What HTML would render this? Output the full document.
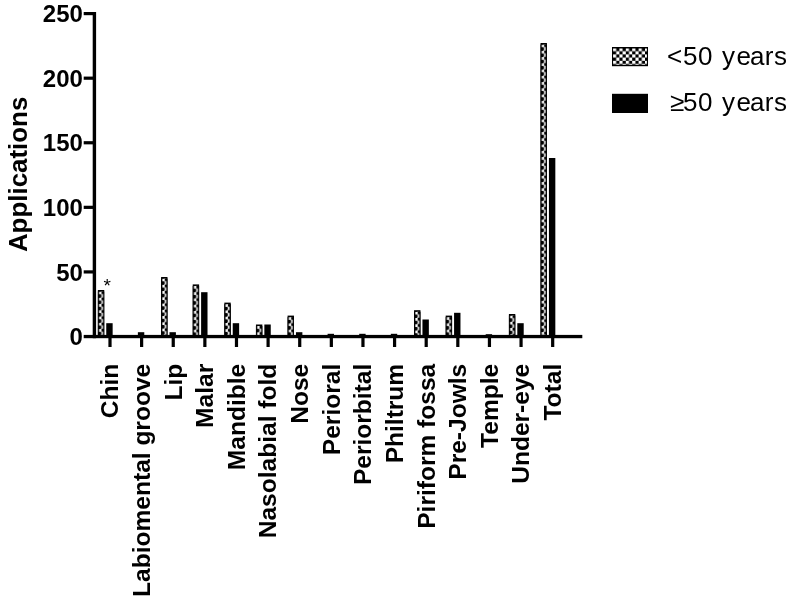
<!DOCTYPE html>
<html><head><meta charset="utf-8"><title>Applications by site and age</title>
<style>
html,body{margin:0;padding:0;background:#fff;}
svg{display:block;}
text{font-family:"Liberation Sans",Arial,Helvetica,sans-serif;fill:#000;}
.b{font-weight:bold;font-size:24.6px;letter-spacing:-0.03px;}
.yl{font-weight:bold;font-size:24px;text-anchor:end;}
.lg{font-size:26px;letter-spacing:0.6px;}
</style></head><body>
<svg width="790" height="602" viewBox="0 0 790 602">
<defs>
<pattern id="chk" patternUnits="userSpaceOnUse" x="1" y="1" width="6.4" height="6.4">
<rect x="0" y="0" width="6.4" height="6.4" fill="#000"/>
<rect x="0" y="0" width="3.2" height="3.2" fill="#fff"/>
<rect x="3.2" y="3.2" width="3.2" height="3.2" fill="#fff"/>
</pattern>
<pattern id="bp" patternUnits="userSpaceOnUse" x="0" y="1.6" width="6.5" height="6.25">
<rect x="0" y="0" width="6.5" height="6.25" fill="#000"/>
<rect x="1.3" y="0" width="2.3" height="2.7" fill="#fff"/>
<rect x="3.5" y="2.5" width="1.7" height="3.5" fill="#e4e4e4"/>
<rect x="2.9" y="2.2" width="1.2" height="0.9" fill="#bbb"/>
<rect x="2.9" y="5.3" width="1.2" height="0.9" fill="#bbb"/>
</pattern>
</defs>
<rect x="0" y="0" width="790" height="602" fill="#fff"/>

<g transform="translate(97.85,290.00)"><rect x="0" y="0" width="6.4" height="46.50" fill="#000"/><rect x="0" y="1.5" width="6.4" height="45.00" fill="url(#bp)"/></g>
<rect x="106.25" y="323.20" width="6.4" height="13.30" fill="#000"/>
<rect x="129.47" y="335.30" width="6.4" height="1.20" fill="#000"/>
<rect x="137.87" y="332.20" width="6.4" height="4.30" fill="#000"/>
<g transform="translate(161.09,277.00)"><rect x="0" y="0" width="6.4" height="59.50" fill="#000"/><rect x="0" y="1.5" width="6.4" height="58.00" fill="url(#bp)"/></g>
<rect x="169.49" y="332.20" width="6.4" height="4.30" fill="#000"/>
<g transform="translate(192.71,284.40)"><rect x="0" y="0" width="6.4" height="52.10" fill="#000"/><rect x="0" y="1.5" width="6.4" height="50.60" fill="url(#bp)"/></g>
<rect x="201.11" y="292.20" width="6.4" height="44.30" fill="#000"/>
<g transform="translate(224.33,302.60)"><rect x="0" y="0" width="6.4" height="33.90" fill="#000"/><rect x="0" y="1.5" width="6.4" height="32.40" fill="url(#bp)"/></g>
<rect x="232.73" y="323.20" width="6.4" height="13.30" fill="#000"/>
<g transform="translate(255.95,324.50)"><rect x="0" y="0" width="6.4" height="12.00" fill="#000"/><rect x="0" y="1.5" width="6.4" height="10.50" fill="url(#bp)"/></g>
<rect x="264.35" y="324.50" width="6.4" height="12.00" fill="#000"/>
<g transform="translate(287.57,315.60)"><rect x="0" y="0" width="6.4" height="20.90" fill="#000"/><rect x="0" y="1.5" width="6.4" height="19.40" fill="url(#bp)"/></g>
<rect x="295.97" y="332.20" width="6.4" height="4.30" fill="#000"/>
<rect x="327.59" y="333.80" width="6.4" height="2.70" fill="#000"/>
<rect x="359.21" y="333.80" width="6.4" height="2.70" fill="#000"/>
<rect x="390.83" y="333.80" width="6.4" height="2.70" fill="#000"/>
<g transform="translate(414.05,310.20)"><rect x="0" y="0" width="6.4" height="26.30" fill="#000"/><rect x="0" y="1.5" width="6.4" height="24.80" fill="url(#bp)"/></g>
<rect x="422.45" y="319.50" width="6.4" height="17.00" fill="#000"/>
<g transform="translate(445.67,315.60)"><rect x="0" y="0" width="6.4" height="20.90" fill="#000"/><rect x="0" y="1.5" width="6.4" height="19.40" fill="url(#bp)"/></g>
<rect x="454.07" y="312.80" width="6.4" height="23.70" fill="#000"/>
<rect x="485.69" y="334.20" width="6.4" height="2.30" fill="#000"/>
<g transform="translate(508.91,314.00)"><rect x="0" y="0" width="6.4" height="22.50" fill="#000"/><rect x="0" y="1.5" width="6.4" height="21.00" fill="url(#bp)"/></g>
<rect x="517.31" y="323.20" width="6.4" height="13.30" fill="#000"/>
<g transform="translate(540.53,43.00)"><rect x="0" y="0" width="6.4" height="293.50" fill="#000"/><rect x="0" y="1.5" width="6.4" height="292.00" fill="url(#bp)"/></g>
<rect x="548.93" y="158.00" width="6.4" height="178.50" fill="#000"/>
<rect x="92.7" y="12" width="3.4" height="326.2" fill="#000"/>
<rect x="83.7" y="334.9" width="498.6" height="3.3" fill="#000"/>
<rect x="83.7" y="12.00" width="10" height="3.2" fill="#000"/>
<text class="yl" x="82.9" y="22.20">250</text>
<rect x="83.7" y="76.58" width="10" height="3.2" fill="#000"/>
<text class="yl" x="82.9" y="86.78">200</text>
<rect x="83.7" y="141.16" width="10" height="3.2" fill="#000"/>
<text class="yl" x="82.9" y="151.36">150</text>
<rect x="83.7" y="205.74" width="10" height="3.2" fill="#000"/>
<text class="yl" x="82.9" y="215.94">100</text>
<rect x="83.7" y="270.32" width="10" height="3.2" fill="#000"/>
<text class="yl" x="82.9" y="280.52">50</text>
<text class="yl" x="82.9" y="345.10">0</text>
<rect x="108.40" y="336" width="3.2" height="11" fill="#000"/>
<text class="b" text-anchor="end" transform="translate(118.30,363.8) rotate(-90)">Chin</text>
<rect x="140.02" y="336" width="3.2" height="11" fill="#000"/>
<text class="b" text-anchor="end" transform="translate(149.92,363.8) rotate(-90)">Labiomental groove</text>
<rect x="171.64" y="336" width="3.2" height="11" fill="#000"/>
<text class="b" text-anchor="end" transform="translate(181.54,363.8) rotate(-90)">Lip</text>
<rect x="203.26" y="336" width="3.2" height="11" fill="#000"/>
<text class="b" text-anchor="end" transform="translate(213.16,363.8) rotate(-90)">Malar</text>
<rect x="234.88" y="336" width="3.2" height="11" fill="#000"/>
<text class="b" text-anchor="end" transform="translate(244.78,363.8) rotate(-90)">Mandible</text>
<rect x="266.50" y="336" width="3.2" height="11" fill="#000"/>
<text class="b" text-anchor="end" transform="translate(276.40,363.8) rotate(-90)">Nasolabial fold</text>
<rect x="298.12" y="336" width="3.2" height="11" fill="#000"/>
<text class="b" text-anchor="end" transform="translate(308.02,363.8) rotate(-90)">Nose</text>
<rect x="329.74" y="336" width="3.2" height="11" fill="#000"/>
<text class="b" text-anchor="end" transform="translate(339.64,363.8) rotate(-90)">Perioral</text>
<rect x="361.36" y="336" width="3.2" height="11" fill="#000"/>
<text class="b" text-anchor="end" transform="translate(371.26,363.8) rotate(-90)">Periorbital</text>
<rect x="392.98" y="336" width="3.2" height="11" fill="#000"/>
<text class="b" text-anchor="end" transform="translate(402.88,363.8) rotate(-90)">Philtrum</text>
<rect x="424.60" y="336" width="3.2" height="11" fill="#000"/>
<text class="b" text-anchor="end" transform="translate(434.50,363.8) rotate(-90)">Piriform fossa</text>
<rect x="456.22" y="336" width="3.2" height="11" fill="#000"/>
<text class="b" text-anchor="end" transform="translate(466.12,363.8) rotate(-90)">Pre-Jowls</text>
<rect x="487.84" y="336" width="3.2" height="11" fill="#000"/>
<text class="b" text-anchor="end" transform="translate(497.74,363.8) rotate(-90)">Temple</text>
<rect x="519.46" y="336" width="3.2" height="11" fill="#000"/>
<text class="b" text-anchor="end" transform="translate(529.36,363.8) rotate(-90)">Under-eye</text>
<rect x="551.08" y="336" width="3.2" height="11" fill="#000"/>
<text class="b" text-anchor="end" transform="translate(560.98,363.8) rotate(-90)">Total</text>
<text font-weight="bold" font-size="26.5px" textLength="155.4" lengthAdjust="spacingAndGlyphs" transform="translate(26.5,252.1) rotate(-90)">Applications</text>
<text font-size="19px" text-anchor="middle" x="107.3" y="291.8">*</text>
<g transform="translate(612,47)"><rect x="0" y="0" width="36" height="19.2" fill="#000"/><rect x="1.1" y="1.5" width="33.8" height="16.5" fill="url(#chk)"/></g>
<rect x="612" y="93.8" width="36" height="19.2" fill="#000"/>
<text class="lg" x="666.9" y="65.3">&lt;</text><text class="lg" text-anchor="end" x="787.6" y="65.3">50 <tspan dx="0.9">y</tspan><tspan dx="1.1">e</tspan><tspan dx="-1.6">a</tspan><tspan dx="-0.4">r</tspan>s</text>
<text class="lg" x="669.9" y="111">≥</text><text class="lg" text-anchor="end" x="787.6" y="111">50 <tspan dx="0.9">y</tspan><tspan dx="1.1">e</tspan><tspan dx="-1.6">a</tspan><tspan dx="-0.4">r</tspan>s</text>
</svg></body></html>
